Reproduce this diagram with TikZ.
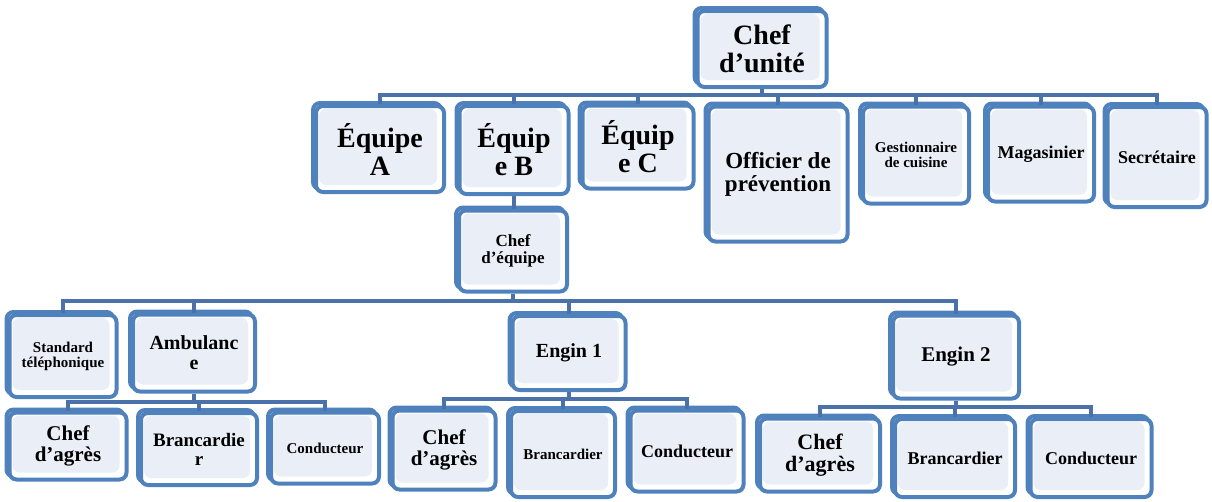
\documentclass[tikz,border=0pt]{standalone}
\usepackage{fontspec}
\setmainfont{Liberation Serif}
\usetikzlibrary{shadows}
\definecolor{boxblue}{HTML}{4F81BD}
\definecolor{linkblue}{HTML}{4A72A8}
\definecolor{boxfill}{HTML}{EAEFF7}
\newcommand{\fsz}[1]{\bfseries\fontsize{#1}{#1}\selectfont}

\begin{document}
\begin{tikzpicture}[x=1pt,y=-1pt]
    \tikzstyle{box}=[draw=boxblue,line width=4pt,rounded corners=7pt,fill=white,align=center,inner sep=2pt,
        copy shadow={shadow xshift=-3pt,shadow yshift=3pt},
        path picture={\fill[boxfill] ([shift={(3pt,-3pt)}]path picture bounding box.north west) rectangle ([shift={(-7pt,7pt)}]path picture bounding box.south east);}]
    \tikzstyle{link}=[draw=linkblue,line width=4pt]

    \useasboundingbox (0,0) rectangle (1212,501);

    % top level
    \node[box,font=\fsz{28},minimum width=129,minimum height=76] (chefunite) at (762,49) {Chef\\d'unité};

    \node[box,font=\fsz{28},minimum width=128,minimum height=86] (equipeA) at (380,149) {Équipe\\A};
    \node[box,font=\fsz{28},minimum width=109,minimum height=88] (equipeB) at (514,150) {Équip\\e B};
    \node[box,font=\fsz{28},minimum width=111,minimum height=83] (equipeC) at (638,147) {Équip\\e C};
    \node[box,font=\fsz{23},minimum width=139,minimum height=135] (officier) at (778,174) {Officier de\\prévention};
    \node[box,font=\fsz{15},minimum width=106,minimum height=97] (gestion) at (916,155) {Gestionnaire\\de cuisine};
    \node[box,font=\fsz{18},minimum width=106,minimum height=95] (magasin) at (1041,154) {Magasinier};
    \node[box,font=\fsz{18},minimum width=99,minimum height=100] (secretaire) at (1157,157) {Secrétaire};

    % equipe B
    \node[box,font=\fsz{17},minimum width=108,minimum height=81] (chefequipe) at (513,251) {Chef\\d'équipe};

    \node[box,font=\fsz{15},minimum width=107,minimum height=82] (standard) at (63,356) {Standard\\téléphonique};
    \node[box,font=\fsz{20},minimum width=122,minimum height=77] (ambulance) at (194,353) {Ambulanc\\e};
    \node[box,font=\fsz{20},minimum width=113,minimum height=74] (engin1) at (569,353) {Engin 1};
    \node[box,font=\fsz{21},minimum width=126,minimum height=83] (engin2) at (956,357) {Engin 2};

    \node[box,font=\fsz{21},minimum width=117,minimum height=67] (agresA) at (68,446) {Chef\\d'agrès};
    \node[box,font=\fsz{19},minimum width=116,minimum height=72] (brancA) at (199,449) {Brancardie\\r};
    \node[box,font=\fsz{15},minimum width=108,minimum height=71] (conducA) at (325,448) {Conducteur};

    \node[box,font=\fsz{21},minimum width=103,minimum height=79] (agresB) at (444,450) {Chef\\d'agrès};
    \node[box,font=\fsz{15},minimum width=104,minimum height=86] (brancB) at (563,454) {Brancardier};
    \node[box,font=\fsz{18},minimum width=113,minimum height=81] (conducB) at (687,451) {Conducteur};

    \node[box,font=\fsz{22},minimum width=120,minimum height=73] (agresC) at (820,455) {Chef\\d'agrès};
    \node[box,font=\fsz{18},minimum width=120,minimum height=78] (brancC) at (955,458) {Brancardier};
    \node[box,font=\fsz{18},minimum width=121,minimum height=78] (conducC) at (1091,458) {Conducteur};

    % buses
    \coordinate (bus1) at (0,95);
    \coordinate (bus2) at (0,301);
    \coordinate (bus3) at (0,402);
    \coordinate (bus4) at (0,399);
    \coordinate (bus5) at (0,407);

    \draw[link] (chefunite.south) |- (equipeA.north |- bus1) -- (equipeA.north);
    \draw[link] (chefunite.south) |- (equipeB.north |- bus1) -- (equipeB.north);
    \draw[link] (chefunite.south) |- (equipeC.north |- bus1) -- (equipeC.north);
    \draw[link] (chefunite.south) |- (officier.north |- bus1) -- (officier.north);
    \draw[link] (chefunite.south) |- (gestion.north |- bus1) -- (gestion.north);
    \draw[link] (chefunite.south) |- (magasin.north |- bus1) -- (magasin.north);
    \draw[link] (chefunite.south) |- (secretaire.north |- bus1) -- (secretaire.north);

    \draw[link] (equipeB.south) -- (equipeB.south |- chefequipe.north);

    \draw[link] (chefequipe.south) |- (standard.north |- bus2) -- (standard.north);
    \draw[link] (chefequipe.south) |- (ambulance.north |- bus2) -- (ambulance.north);
    \draw[link] (chefequipe.south) |- (engin1.north |- bus2) -- (engin1.north);
    \draw[link] (chefequipe.south) |- (engin2.north |- bus2) -- (engin2.north);

    \draw[link] (ambulance.south) |- (agresA.north |- bus3) -- (agresA.north);
    \draw[link] (ambulance.south) |- (brancA.north |- bus3) -- (brancA.north);
    \draw[link] (ambulance.south) |- (conducA.north |- bus3) -- (conducA.north);

    \draw[link] (engin1.south) |- (agresB.north |- bus4) -- (agresB.north);
    \draw[link] (engin1.south) |- (brancB.north |- bus4) -- (brancB.north);
    \draw[link] (engin1.south) |- (conducB.north |- bus4) -- (conducB.north);

    \draw[link] (engin2.south) |- (agresC.north |- bus5) -- (agresC.north);
    \draw[link] (engin2.south) |- (brancC.north |- bus5) -- (brancC.north);
    \draw[link] (engin2.south) |- (conducC.north |- bus5) -- (conducC.north);
\end{tikzpicture}
\end{document}
